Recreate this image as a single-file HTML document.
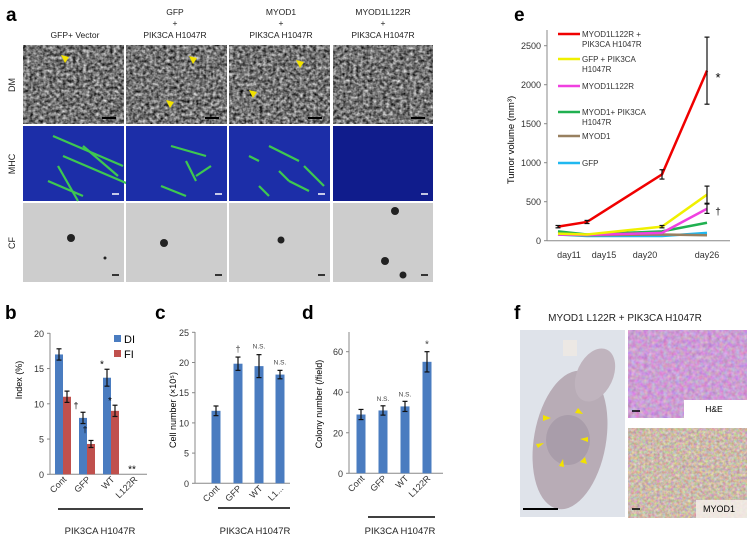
<!DOCTYPE html>
<html><head><meta charset="utf-8"><style>
html,body{margin:0;padding:0;background:#fff;}
svg{display:block;font-family:"Liberation Sans",sans-serif;}
</style></head><body>
<svg id="fig" width="750" height="539" viewBox="0 0 750 539" xmlns="http://www.w3.org/2000/svg">
<defs>
<filter id="noise" x="0" y="0" width="100%" height="100%" color-interpolation-filters="sRGB"><feTurbulence type="fractalNoise" baseFrequency="0.3" numOctaves="2" seed="3"/><feColorMatrix type="saturate" values="0"/><feComponentTransfer><feFuncR type="linear" slope="1.5" intercept="-0.3"/><feFuncG type="linear" slope="1.5" intercept="-0.3"/><feFuncB type="linear" slope="1.5" intercept="-0.3"/><feFuncA type="linear" slope="0" intercept="1"/></feComponentTransfer></filter>
<filter id="noise2" x="0" y="0" width="100%" height="100%" color-interpolation-filters="sRGB"><feTurbulence type="fractalNoise" baseFrequency="0.25" numOctaves="2" seed="7"/><feColorMatrix type="matrix" values="0.3 0 0 0 0.65  0 0.4 0 0 0.42  0 0 0.3 0 0.68  0 0 0 0 1"/></filter>
<filter id="noise3" x="0" y="0" width="100%" height="100%" color-interpolation-filters="sRGB"><feTurbulence type="fractalNoise" baseFrequency="0.35" numOctaves="2" seed="11"/><feColorMatrix type="matrix" values="0.4 0 0 0 0.6  0 0.5 0 0 0.48  0 0 0.5 0 0.42  0 0 0 0 1"/></filter>
</defs>

<g>
<text x="6" y="21" font-size="19" font-weight="bold">a</text>
<g font-size="8.5" text-anchor="middle" fill="#222">
<text x="75" y="38">GFP+ Vector</text>
<text x="175" y="15">GFP</text><text x="175" y="26">+</text><text x="175" y="38">PIK3CA H1047R</text>
<text x="281" y="15">MYOD1</text><text x="281" y="26">+</text><text x="281" y="38">PIK3CA H1047R</text>
<text x="383" y="15">MYOD1L122R</text><text x="383" y="26">+</text><text x="383" y="38">PIK3CA H1047R</text>
</g>
<g font-size="9" fill="#222">
<text transform="translate(15,85) rotate(-90)" text-anchor="middle">DM</text>
<text transform="translate(15,164) rotate(-90)" text-anchor="middle">MHC</text>
<text transform="translate(15,243) rotate(-90)" text-anchor="middle">CF</text>
</g>
<g id="micro"></g>
</g>

<g id="pb"><text x="5" y="319" font-size="19" font-weight="bold">b</text></g>
<g id="pc"><text x="155" y="319" font-size="19" font-weight="bold">c</text></g>
<g id="pd"><text x="302" y="319" font-size="19" font-weight="bold">d</text></g>
<g id="pe"><text x="514" y="21" font-size="19" font-weight="bold">e</text></g>

<g>
<text x="514" y="319" font-size="19" font-weight="bold">f</text>
<text x="625" y="321" font-size="10" text-anchor="middle" fill="#222">MYOD1 L122R + PIK3CA H1047R</text>
<rect x="520" y="330" width="105" height="187" fill="#dfe3ea"/>
<ellipse cx="570" cy="440" rx="36" ry="70" fill="#b8acb6" transform="rotate(10 570 440)"/>
<ellipse cx="595" cy="375" rx="18" ry="28" fill="#c0b4be" transform="rotate(25 595 375)"/>
<ellipse cx="568" cy="440" rx="22" ry="25" fill="#a99daa"/>
<rect x="563" y="340" width="14" height="16" fill="#ece8e4"/>
<g fill="#f2e200">
<polygon points="543,415 551,418 543,421"/><polygon points="578,408 583,414 575,413"/><polygon points="588,437 580,439 588,442"/>
<polygon points="536,444 544,443 538,448"/><polygon points="559,466 563,459 564,467"/><polygon points="580,462 585,457 587,464"/>
</g>
<line x1="523" y1="509" x2="558" y2="509" stroke="#000" stroke-width="2"/>
<rect x="628" y="330" width="119" height="88" fill="#c8a0cc"/>
<rect x="628" y="330" width="119" height="88" filter="url(#noise2)"/>
<rect x="684" y="400" width="63" height="18" fill="#fff"/>
<text x="714" y="412" font-size="8.5" text-anchor="middle">H&amp;E</text>
<line x1="632" y1="411" x2="640" y2="411" stroke="#000" stroke-width="1.5"/>
<rect x="628" y="428" width="119" height="90" fill="#d0b8a0"/>
<rect x="628" y="428" width="119" height="90" filter="url(#noise3)"/>
<rect x="696" y="500" width="51" height="18" fill="#f4efea" opacity="0.85"/>
<text x="719" y="512" font-size="9" text-anchor="middle">MYOD1</text>
<line x1="632" y1="509" x2="640" y2="509" stroke="#000" stroke-width="1.5"/>
</g>
</svg>
<script>
const NS="http://www.w3.org/2000/svg";
function mk(parent,tag,attrs,text){const e=document.createElementNS(NS,tag);for(const k in attrs)e.setAttribute(k,attrs[k]);if(text!==undefined)e.textContent=text;parent.appendChild(e);return e;}

const micro=document.getElementById('micro');
const colX=[23,126,229,333], colW=[101,101,101,100];
const rowY=[45,126,203], rowH=[79,75,79];
const greens=[[[30,10,100,40],[40,30,110,60],[25,55,60,70],[60,20,95,50],[35,40,55,75]],[[45,20,80,30],[60,35,70,55],[35,60,60,70],[70,50,85,40]],[[20,30,30,35],[50,45,60,55],[40,20,70,35],[75,40,95,60],[30,60,40,70],[60,55,80,65]],[]];
const cfDots=[[[48,35,4],[82,55,1.5]],[[38,40,4]],[[52,37,3.5]],[[62,8,4],[52,58,4],[70,72,3.5]]];
const arrows=[[[65,10],[98,84]],[[193,11],[170,55]],[[300,15],[253,45]],[]];
for(let r=0;r<3;r++)for(let c=0;c<4;c++){
  const x=colX[c],y=rowY[r],w=colW[c],h=rowH[r];
  if(r===0){
    const im=mk(micro,'rect',{x:x,y:y,width:w,height:h,fill:'#666',filter:'url(#noise)'});
    
    
    mk(micro,'line',{x1:x+w-22,y1:y+h-6,x2:x+w-8,y2:y+h-6,stroke:'#000','stroke-width':2});
    arrows[c].forEach(a=>{const ax=a[0]<x?x+a[0]:a[0], ay=y+a[1]; mk(micro,'polygon',{points:`${ax-4},${ay} ${ax+4},${ay+2} ${ax},${ay+8}`,fill:'#f2e200'});});
  } else if(r===1){
    const im=mk(micro,'rect',{x:x,y:y,width:w,height:h,fill:c===3?'#101c8c':'#1c2ea8'});
    
    
    greens[c].forEach(g=>mk(micro,'line',{x1:x+g[0],y1:y+g[1],x2:x+g[2],y2:y+g[3],stroke:'#3ec850','stroke-width':2.2}));
    mk(micro,'line',{x1:x+w-12,y1:y+h-7,x2:x+w-5,y2:y+h-7,stroke:'#fff','stroke-width':1.5});
  } else {
    const im=mk(micro,'rect',{x:x,y:y,width:w,height:h,fill:'#cdcdcd'});
    
    
    cfDots[c].forEach(d=>mk(micro,'circle',{cx:x+d[0],cy:y+d[1],r:d[2],fill:'#222'}));
    mk(micro,'line',{x1:x+w-12,y1:y+h-7,x2:x+w-5,y2:y+h-7,stroke:'#000','stroke-width':1.5});
  }
}

const bCats=['Cont','GFP','WT','L122R'];
const bDI=[17,8,13.7,0];
const bDIerr=[0.8,0.8,1.2,0];
const bFI=[11,4.3,9,0];
const bFIerr=[0.8,0.5,0.8,0];
const bTicks=[0,5,10,15,20];
const cCats=['Cont','GFP','WT','L1...'];
const cVals=[12,19.8,19.4,18];
const cErr=[0.8,1.1,1.9,0.7];
const cTicks=[0,5,10,15,20,25];
const cNotes=['','†','N.S.','N.S.'];
const dCats=['Cont','GFP','WT','L122R'];
const dVals=[29,31,33,55];
const dErr=[2.5,2.3,2.5,5];
const dTicks=[0,20,40,60];
const dNotes=['','N.S.','N.S.','*'];
const eDays=['day11','day15','day20','day26'];
const eRed=[180,240,850,2180];
const eYellow=[90,80,180,590];
const eMagenta=[80,75,100,410];
const eGreen=[120,80,120,230];
const eBrown=[80,70,80,70];
const eCyan=[80,60,60,100];
const eRedErr=[15,20,60,430];
const eYellowErr=[0,0,15,110];
const eMagentaErr=[0,0,0,60];
const eTicks=[0,500,1000,1500,2000,2500];

const BLUE='#4a7cc0', RED='#c0504d';

function axisY(g,x0,y0,yTop,xEnd,scale,ticks){
  mk(g,'line',{x1:x0,y1:y0,x2:x0,y2:yTop,stroke:'#888','stroke-width':1});
  mk(g,'line',{x1:x0,y1:y0,x2:xEnd,y2:y0,stroke:'#888','stroke-width':1});
  ticks.forEach(t=>{const y=scale(t);
    mk(g,'line',{x1:x0-3,y1:y,x2:x0,y2:y,stroke:'#888'});
    const tl=mk(g,'text',{x:x0-6,y:y+3.5,'font-size':9,'text-anchor':'end',fill:'#333'},t);
    
    
  });
}
function errBar(g,x,y1,y2){
  mk(g,'line',{x1:x,y1:y1,x2:x,y2:y2,stroke:'#111','stroke-width':1.2});
  mk(g,'line',{x1:x-2.5,y1:y1,x2:x+2.5,y2:y1,stroke:'#111','stroke-width':1.2});
  mk(g,'line',{x1:x-2.5,y1:y2,x2:x+2.5,y2:y2,stroke:'#111','stroke-width':1.2});
}
function catLabels(g,cats,xs,y){
  cats.forEach((c,i)=>{const t=mk(g,'text',{transform:`translate(${xs[i]+4},${y}) rotate(-45)`,'font-size':9,'text-anchor':'end',fill:'#333'},c);
    
    });
}
function pikLine(g,x1,x2,y,cx){
  mk(g,'line',{x1:x1,y1:y,x2:x2,y2:y,stroke:'#000','stroke-width':1.5});
  const t=mk(g,'text',{x:cx,y:534,'font-size':9.5,'text-anchor':'middle',fill:'#222'},'PIK3CA H1047R');
  
  
}

(function(){
  const g=document.getElementById('pb');
  const y0=474.3, k=7.05, sy=v=>y0-v*k;
  axisY(g,50,y0,333,147,sy,bTicks);
  const cx=[63,87,111,134];
  bCats.forEach((c,i)=>{
    if(bDI[i]>0){const r=mk(g,'rect',{x:cx[i]-8,y:sy(bDI[i]),width:8,height:bDI[i]*k,fill:BLUE});
      
      errBar(g,cx[i]-4,sy(bDI[i]+bDIerr[i]),sy(bDI[i]-bDIerr[i]));}
    if(bFI[i]>0){const r=mk(g,'rect',{x:cx[i],y:sy(bFI[i]),width:8,height:bFI[i]*k,fill:RED});
      
      errBar(g,cx[i]+4,sy(bFI[i]+bFIerr[i]),sy(bFI[i]-bFIerr[i]));}
  });
  mk(g,'text',{x:76,y:sy(bDI[1]+bDIerr[1])-4,'font-size':9,'text-anchor':'middle'},'†');
  mk(g,'text',{x:85,y:sy(bFI[1]+bFIerr[1])-8,'font-size':9,'text-anchor':'middle'},'†');
  mk(g,'text',{x:102,y:sy(bDI[2]+bDIerr[2])-2,'font-size':10,'text-anchor':'middle'},'*');
  mk(g,'text',{x:110,y:sy(bFI[2]+bFIerr[2])-1,'font-size':10,'text-anchor':'middle'},'*');
  mk(g,'text',{x:132,y:sy(0)-2,'font-size':10,'text-anchor':'middle'},'**');
  const l1=mk(g,'rect',{x:114,y:335,width:7,height:7,fill:BLUE});
  
  mk(g,'text',{x:124,y:343,'font-size':11},'DI');
  const l2=mk(g,'rect',{x:114,y:350,width:7,height:7,fill:RED});
  
  mk(g,'text',{x:124,y:358,'font-size':11},'FI');
  const yt=mk(g,'text',{transform:'translate(22,380) rotate(-90)','font-size':9,'text-anchor':'middle'},'Index (%)');
  
  catLabels(g,bCats,cx,480);
  pikLine(g,58,143,509,100);
})();

(function(){
  const g=document.getElementById('pc');
  const y0=483.3, k=6.04, sy=v=>y0-v*k;
  axisY(g,195,y0,332,290,sy,cTicks);
  const cx=[216,238,259,280];
  cCats.forEach((c,i)=>{
    const r=mk(g,'rect',{x:cx[i]-4.5,y:sy(cVals[i]),width:9,height:cVals[i]*k,fill:BLUE});
    
    errBar(g,cx[i],sy(cVals[i]+cErr[i]),sy(cVals[i]-cErr[i]));
    if(cNotes[i])mk(g,'text',{x:cx[i],y:sy(cVals[i]+cErr[i])-(i===1?5:6),'font-size':i===1?9:6.5,'text-anchor':'middle',fill:'#444'},cNotes[i]);
  });
  const yt=mk(g,'text',{transform:'translate(176,410) rotate(-90)','font-size':9,'text-anchor':'middle'},'Cell number (×10⁵)');
  
  catLabels(g,cCats,cx,489);
  pikLine(g,218,290,508,255);
})();

(function(){
  const g=document.getElementById('pd');
  const y0=473.3, k=2.027, sy=v=>y0-v*k;
  axisY(g,349,y0,332,443,sy,dTicks);
  const cx=[361,383,405,427];
  dCats.forEach((c,i)=>{
    const r=mk(g,'rect',{x:cx[i]-4.5,y:sy(dVals[i]),width:9,height:dVals[i]*k,fill:BLUE});
    
    errBar(g,cx[i],sy(dVals[i]+dErr[i]),sy(dVals[i]-dErr[i]));
    if(dNotes[i])mk(g,'text',{x:cx[i],y:sy(dVals[i]+dErr[i])-(i===3?4:5),'font-size':i===3?10:6.5,'text-anchor':'middle',fill:'#444'},dNotes[i]);
  });
  const yt=mk(g,'text',{transform:'translate(322,404) rotate(-90)','font-size':9,'text-anchor':'middle'},'Colony number (/field)');
  
  catLabels(g,dCats,cx,479);
  pikLine(g,368,435,517,400);
})();

(function(){
  const g=document.getElementById('pe');
  const y0=240.7, k=0.078, sy=v=>y0-v*k;
  axisY(g,547,y0,30,730,sy,eTicks);
  const px=[558,587,662,707], lx=[569,604,645,707];
  eDays.forEach((d,i)=>{const t=mk(g,'text',{x:lx[i],y:258,'font-size':9,'text-anchor':'middle',fill:'#333'},d);
    });
  const series=[[eCyan,'#20b8f0','gfp'],[eBrown,'#988060','myod1'],[eGreen,'#20b050','myod1-pik3ca'],[eMagenta,'#f040e0','myod1l122r'],[eYellow,'#f0f000','gfp-pik3ca'],[eRed,'#f00000','myod1l122r-pik3ca']];
  const errs={'myod1l122r-pik3ca':eRedErr,'gfp-pik3ca':eYellowErr,'myod1l122r':eMagentaErr};
  series.forEach(s=>{
    const pts=s[0].map((v,i)=>px[i]+','+sy(v)).join(' ');
    const pl=mk(g,'polyline',{points:pts,fill:'none',stroke:s[1],'stroke-width':2.5});
    
    const er=errs[s[2]];
    if(er)s[0].forEach((v,i)=>{if(er[i]>0)errBar(g,px[i],sy(v+er[i]),sy(v-er[i]));});
  });
  mk(g,'text',{x:718,y:82,'font-size':13,'text-anchor':'middle'},'*');
  mk(g,'text',{x:718,y:215,'font-size':10,'text-anchor':'middle'},'†');
  const leg=[['#f00000','MYOD1L122R +','PIK3CA H1047R',34],['#f0f000','GFP + PIK3CA','H1047R',59],['#f040e0','MYOD1L122R','',86],['#20b050','MYOD1+ PIK3CA','H1047R',112],['#988060','MYOD1','',136],['#20b8f0','GFP','',163]];
  leg.forEach(l=>{
    const ln=mk(g,'line',{x1:558,y1:l[3],x2:580,y2:l[3],stroke:l[0],'stroke-width':2.5});
    
    mk(g,'text',{x:582,y:l[3]+3,'font-size':8,fill:'#333'},l[1]);
    if(l[2])mk(g,'text',{x:582,y:l[3]+13,'font-size':8,fill:'#333'},l[2]);
  });
  const yt=mk(g,'text',{transform:'translate(514,140) rotate(-90)','font-size':9.5,'text-anchor':'middle'},'Tumor volume (mm³)');
  
})();
</script>
</body></html>
